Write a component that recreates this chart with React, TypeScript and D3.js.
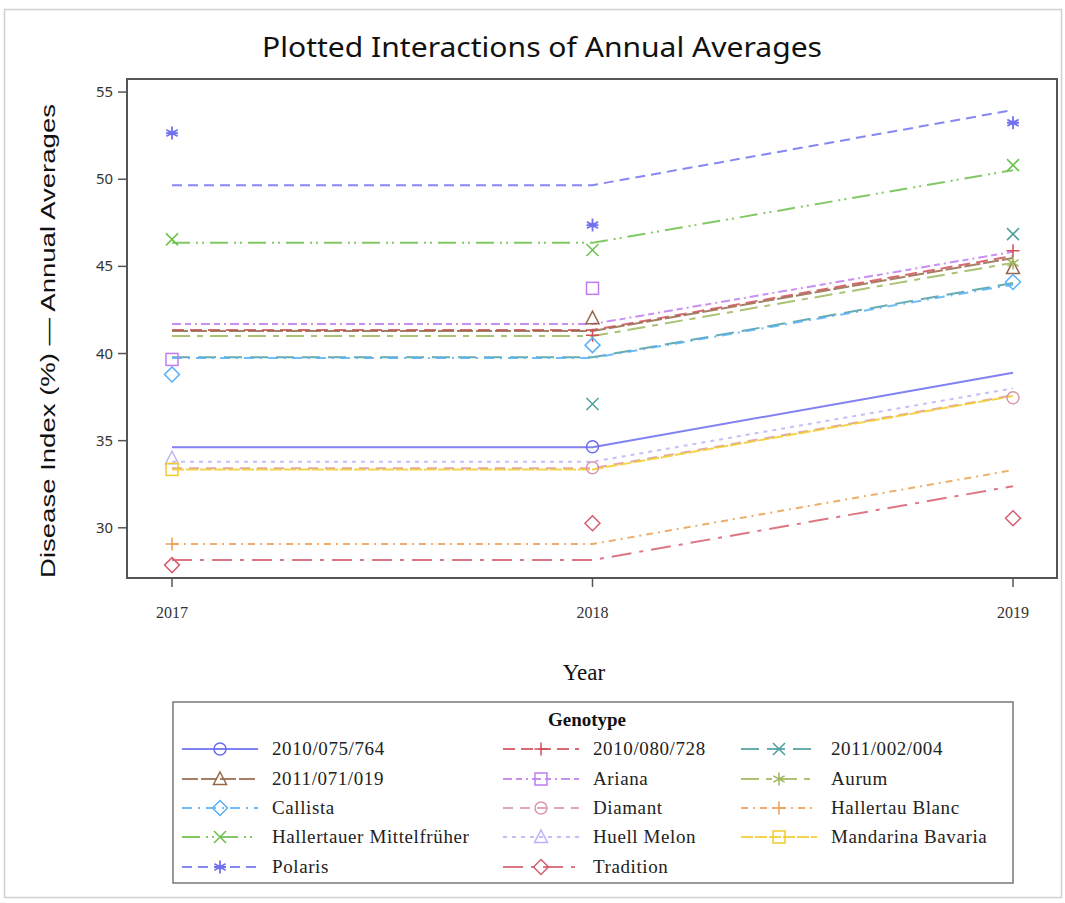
import React from "react";
import * as d3 from "d3";

const genotypes = [
  "2010/075/764", "2010/080/728", "2011/002/004", "2011/071/019", "Ariana", "Aurum", "Callista",
  "Diamant", "Hallertau Blanc", "Hallertauer Mittelfrüher", "Huell Melon", "Mandarina Bavaria", "Polaris", "Tradition",
];
const years = [2017, 2018, 2019];
const fit2017 = [34.62, 41.35, 39.78, 41.29, 41.69, 41.0, 39.74, 33.42, 29.07, 46.35, 33.79, 33.35, 49.66, 28.15];
const fit2018 = [34.62, 41.35, 39.78, 41.29, 41.69, 41.0, 39.74, 33.42, 29.07, 46.35, 33.79, 33.35, 49.66, 28.15];
const fit2019 = [38.9, 45.6, 44.04, 45.48, 45.84, 45.2, 43.95, 37.6, 33.31, 50.52, 38.0, 37.56, 53.97, 32.39];
// observed means that are visible in the chart (null = not drawn / hidden)
const obs2017 = [null, null, null, null, 39.66, null, 38.8, null, 29.07, 46.55, 33.99, 33.35, 52.65, 27.86];
const obs2018 = [34.65, 41.05, 37.1, 42.03, 43.74, null, 40.48, 33.45, null, 45.94, null, null, 47.37, 30.26];
const obs2019 = [null, 45.9, 46.85, 44.9, null, 45.2, 44.1, 37.46, null, 50.81, null, null, 53.24, 30.55];
const yTicks = [30, 35, 40, 45, 50, 55];

const colors = [
  "#6b6bf0", "#d24f5a", "#4d9d9d", "#96684a", "#c07df2", "#9cb65c", "#58b0fa",
  "#d898a8", "#e9a04e", "#6cc04a", "#bdb2f8", "#f2cc2a", "#7272f0", "#d65e6e",
];
const dashes = [
  "none", "12,6", "18,8", "16,3", "9,4,6,4,2,4", "18,7,6,7", "10,6,2,6",
  "10,7", "7,5,2,5", "18,6,2,4,2,6", "4,5", "12,2", "10,6", "20,8,4,8",
];
const markers = [
  "circle", "plus", "x", "triangle", "square", "asterisk", "diamond",
  "circle", "plus", "x", "triangle", "square", "star", "diamond",
];

function Marker({ type, x, y, color }: { type: string; x: number; y: number; color: string }) {
  const sw = 1.5;
  const common = { fill: "none", stroke: color, strokeWidth: sw };
  const t = `translate(${x},${y})`;
  switch (type) {
    case "circle":
      return <circle cx={x} cy={y} r={6} {...common} />;
    case "plus":
      return <path transform={t} d="M-6.5,0H6.5M0,-6.5V6.5" {...common} />;
    case "x":
      return <path transform={t} d="M-6,-6L6,6M-6,6L6,-6" {...common} />;
    case "triangle":
      return <path transform={t} d="M0,-7L6.5,5.5L-6.5,5.5Z" {...common} />;
    case "square":
      return <rect x={x - 6} y={y - 6} width={12} height={12} {...common} />;
    case "diamond":
      return <path transform={t} d="M0,-7.5L7.5,0L0,7.5L-7.5,0Z" {...common} />;
    case "asterisk":
      return <path transform={t} d="M0,-6.5V6.5M-5.6,-3.2L5.6,3.2M-5.6,3.2L5.6,-3.2" {...common} />;
    case "star":
      return (
        <g transform={t}>
          <path d="M0,-6.5V6.5M-5.6,-3.2L5.6,3.2M-5.6,3.2L5.6,-3.2M-6,0H6" {...common} strokeWidth={1.8} />
          <circle r={2.5} fill={color} />
        </g>
      );
    default:
      return null;
  }
}

export default function App() {
  const left = 127, right = 1057, top = 79, bottom = 578;
  const x = d3.scaleLinear().domain([2017, 2019]).range([172, 1013]);
  const y = d3.scaleLinear().domain([27.12, 55.75]).range([bottom, top]);
  const line = d3.line<[number, number]>().x((d) => x(d[0])).y((d) => y(d[1]));
  const obs = [obs2017, obs2018, obs2019];

  const legendCols = [182, 503, 741];
  const legendRows = [749, 779, 808, 837, 867];

  return (
    <svg width={1065} height={903} style={{ position: "absolute", left: 0, top: 0, background: "#fff" }}>
      <rect x={4.5} y={9.5} width={1057} height={888} fill="#fff" stroke="#d0d0d0" strokeWidth={1.5} />
      <text x={542} y={57} textAnchor="middle" fontFamily="'Noto Sans', sans-serif" fontSize={27}
        textLength={560} lengthAdjust="spacingAndGlyphs" fill="#111">
        Plotted Interactions of Annual Averages
      </text>

      {/* plot lines */}
      {genotypes.map((g, i) => {
        const pts: [number, number][] = [[years[0], fit2017[i]], [years[1], fit2018[i]], [years[2], fit2019[i]]];
        return (
          <path key={"l" + g} d={line(pts) || ""} fill="none" stroke={colors[i]} strokeWidth={2}
            strokeDasharray={dashes[i] === "none" ? undefined : dashes[i]} strokeOpacity={0.85} />
        );
      })}
      {genotypes.map((g, i) => (
        <g key={"m" + g}>
          {years.map((yr, k) => {
            const v = obs[k][i];
            return v == null ? null : <Marker key={yr} type={markers[i]} x={x(yr)} y={y(v)} color={colors[i]} />;
          })}
        </g>
      ))}

      {/* frame */}
      <rect x={left} y={top} width={right - left} height={bottom - top} fill="none" stroke="#555" strokeWidth={2} />

      {/* y axis */}
      {yTicks.map((t) => (
        <g key={"yt" + t}>
          <line x1={left - 9} x2={left} y1={y(t)} y2={y(t)} stroke="#555" strokeWidth={1.5} />
          <text x={left - 14} y={y(t) + 5} textAnchor="end" fontFamily="'Noto Sans', sans-serif" fontSize={15}
            fill="#333" textLength={17} lengthAdjust="spacingAndGlyphs">
            {t}
          </text>
        </g>
      ))}
      <text transform={`translate(55,341) rotate(-90)`} textAnchor="middle" fontFamily="'Liberation Sans', Arial, sans-serif"
        fontSize={20} fill="#111" textLength={474} lengthAdjust="spacingAndGlyphs">
        Disease Index (%) — Annual Averages
      </text>

      {/* x axis */}
      {years.map((yr) => (
        <g key={"xt" + yr}>
          <line x1={x(yr)} x2={x(yr)} y1={bottom} y2={bottom + 9} stroke="#555" strokeWidth={1.5} />
          <text x={x(yr)} y={bottom + 40} textAnchor="middle" fontFamily="'Liberation Serif', serif" fontSize={16} fill="#333">
            {yr}
          </text>
        </g>
      ))}
      <text x={584} y={680} textAnchor="middle" fontFamily="'Liberation Serif', serif" fontSize={23} fill="#111">
        Year
      </text>

      {/* legend */}
      <rect x={173} y={702} width={840} height={181} fill="#fff" stroke="#777" strokeWidth={1.5} />
      <text x={587} y={726} textAnchor="middle" fontFamily="'Liberation Serif', serif" fontSize={19} fontWeight="bold" fill="#111">
        Genotype
      </text>
      {genotypes.map((g, i) => {
        const col = i % 3;
        const row = Math.floor(i / 3);
        const lx = legendCols[col];
        const ly = legendRows[row];
        return (
          <g key={"lg" + g}>
            <line x1={lx} x2={lx + 76} y1={ly} y2={ly} stroke={colors[i]} strokeWidth={2}
              strokeDasharray={dashes[i] === "none" ? undefined : dashes[i]} strokeOpacity={0.85} />
            <Marker type={markers[i]} x={lx + 38} y={ly} color={colors[i]} />
            <text x={lx + 90} y={ly + 6} fontFamily="'Liberation Serif', serif" fontSize={19} letterSpacing={0.6} fill="#222">
              {g}
            </text>
          </g>
        );
      })}
    </svg>
  );
}
